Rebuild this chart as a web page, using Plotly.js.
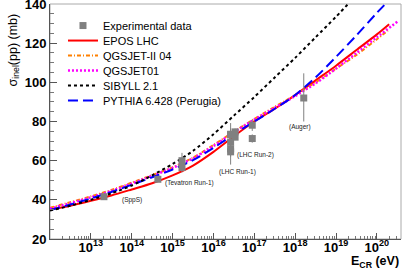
<!DOCTYPE html>
<html>
<head>
<meta charset="utf-8">
<script src="https://cdn.plot.ly/plotly-3.0.1.min.js"></script>
<style>html,body{margin:0;padding:0;background:#fff;}#chart{width:414px;height:272px;}</style>
</head>
<body>
<div id="chart"></div>
<script>
// ---- data (log10 of cosmic-ray energy in eV, cross sections in mb) ----
const eposLogE = [12, 12.5, 13, 13.5, 14, 14.5, 15, 15.5, 16, 16.5, 17, 17.5, 18, 18.5, 19, 19.5, 20, 20.3];
const eposSigma = [35, 37, 39.5, 42.2, 45.3, 48.5, 52.5, 57.5, 64.5, 72.5, 80, 86.5, 93.5, 101, 108.5, 116.5, 124.5, 129.7];

const qgsjet2LogE = [12, 12.5, 13, 13.5, 14, 14.5, 15, 15.5, 16, 16.5, 17, 17.5, 18, 18.5, 19, 19.5, 20, 20.27];
const qgsjet2Sigma = [36, 38.8, 41.8, 45, 48.8, 52.6, 56.6, 61.5, 68, 74.8, 81.3, 87.5, 93.5, 100, 107, 114, 122, 126.5];

const qgsjet01LogE = [12, 12.5, 13, 13.5, 14, 14.5, 15, 15.5, 16, 16.5, 17, 17.5, 18, 18.5, 19, 19.5, 20, 20.52];
const qgsjet01Sigma = [35.5, 38.3, 41.3, 44.5, 48.3, 52.3, 56.3, 61.2, 67.5, 74.5, 81, 87, 93, 99.5, 107, 115, 123, 131.3];

const sibyllLogE = [12, 12.5, 13, 13.5, 14, 14.5, 15, 15.5, 16, 16.5, 17, 17.5, 18, 18.5, 19, 19.5];
const sibyllSigma = [34.5, 37, 40, 43.3, 47.3, 52.5, 58.3, 65, 73.5, 83, 92.5, 102.5, 112.5, 123, 133.5, 144.5];

const pythiaLogE = [12, 12.5, 13, 13.5, 14, 14.5, 15, 15.5, 16, 16.5, 17, 17.5, 18, 18.5, 19, 19.5, 20, 20.3];
const pythiaSigma = [34.8, 37.6, 40.7, 44, 47.7, 51.5, 55.5, 60.3, 66.5, 73.5, 80, 86.5, 93.5, 102.5, 113, 124, 135.5, 142];

const expLogE = [13.32, 14.64, 15.23, 15.23, 16.42, 16.42, 16.42, 16.42, 16.42, 16.53, 16.53, 16.95, 16.95, 18.21];
const expSigma = [41.6, 50.5, 60.0, 56.5, 73.5, 73.2, 69.4, 66.0, 64.5, 74.7, 72.0, 78.1, 71.3, 92.0];
const expErrPlus = [1.0, 1.0, 4.0, 2.5, 3.0, 6.0, 5.0, 4.0, 6.5, 1.7, 1.5, 2.9, 2.1, 12.6];
const expErrMinus = [1.0, 1.0, 4.0, 2.5, 3.0, 6.0, 5.0, 4.0, 6.5, 1.7, 1.5, 2.9, 2.1, 12.0];

const labelText = ['(SppS)', '(Tevatron Run-1)', '(LHC Run-1)', '(LHC Run-2)', '(Auger)'];
const labelLogE = [14.0, 15.42, 16.6, 17.04, 18.11];
const labelSigma = [40, 48.7, 54.4, 63.1, 77.4];

const xTickLogE = [13, 14, 15, 16, 17, 18, 19, 20];
const xTickText = ['10<sup>13</sup>', '10<sup>14</sup>', '10<sup>15</sup>', '10<sup>16</sup>',
                   '10<sup>17</sup>', '10<sup>18</sup>', '10<sup>19</sup>', '10<sup>20</sup>'];

const toE = a => a.map(v => Math.pow(10, v));
const FONT = 'Liberation Sans, Arial, Helvetica, sans-serif';

function model(name, logE, sig, color, dash, width, rank) {
  return {
    type: 'scatter', mode: 'lines', name: name,
    x: toE(logE), y: sig,
    line: {color: color, dash: dash, width: width, shape: 'spline', smoothing: 0.8},
    legendrank: rank, hoverinfo: 'skip'
  };
}

const traces = [
  model('EPOS LHC', eposLogE, eposSigma, '#ff0000', 'solid', 2, 2),
  model('QGSJET-II 04', qgsjet2LogE, qgsjet2Sigma, '#ff8000', '4px,2px,1px,2px', 2, 3),
  model('QGSJET01', qgsjet01LogE, qgsjet01Sigma, '#ff00ff', '2px,2px', 2.5, 4),
  model('PYTHIA 6.428 (Perugia)', pythiaLogE, pythiaSigma, '#0000ff', '10px,5px', 2, 6),
  model('SIBYLL 2.1', sibyllLogE, sibyllSigma, '#000000', '3px,3px', 2, 5),
  {
    type: 'scatter', mode: 'markers', name: 'Experimental data',
    x: toE(expLogE), y: expSigma,
    marker: {symbol: 'square', size: 7, color: '#808080'},
    error_y: {type: 'data', symmetric: false, array: expErrPlus, arrayminus: expErrMinus,
              color: '#808080', thickness: 1, width: 0},
    legendrank: 1, hoverinfo: 'skip'
  }
];

const annotations = labelText.map((t, i) => ({
  text: t, x: labelLogE[i], y: labelSigma[i], xref: 'x', yref: 'y',
  showarrow: false, font: {family: FONT, size: 6.5, color: '#222'}
}));
annotations.push({
  text: '\u03c3<sub>inel</sub>(pp) (mb)', textangle: -90,
  xref: 'paper', yref: 'paper', x: 0, y: 1, xanchor: 'center', yanchor: 'top',
  xshift: -37, yshift: -8, showarrow: false,
  font: {family: FONT, size: 12.5, color: '#000'}
});
annotations.push({
  text: '<b>E<sub>CR</sub> (eV)</b>',
  xref: 'paper', yref: 'paper', x: 1, y: 0, xanchor: 'right', yanchor: 'bottom',
  yshift: -33, showarrow: false,
  font: {family: FONT, size: 12.5, color: '#000'}
});

const layout = {
  width: 414, height: 272,
  margin: {l: 50, r: 13, t: 4, b: 33},
  paper_bgcolor: '#fff', plot_bgcolor: '#fff',
  font: {family: FONT, color: '#000'},
  showlegend: true,
  legend: {
    x: 0.037, y: 0.97, xanchor: 'left', yanchor: 'top',
    bgcolor: 'rgba(0,0,0,0)', borderwidth: 0,
    font: {family: FONT, size: 11, color: '#000'}
  },
  xaxis: {
    type: 'log', range: [12.0, 20.59], tickmode: 'array',
    tickvals: toE(xTickLogE), ticktext: xTickText, tickangle: 0,
    showgrid: false, zeroline: false, showline: true, linecolor: '#555', linewidth: 1,
    ticks: 'inside', ticklen: 6, tickcolor: '#555', ticklabelstandoff: -4,
    minor: {ticks: 'inside', ticklen: 3, dtick: 'D1', tickcolor: '#777', showgrid: false},
    tickfont: {family: FONT, size: 13, color: '#000', weight: 'bold'}
  },
  yaxis: {
    range: [20, 140], dtick: 20, showgrid: false, zeroline: false,
    showline: true, linecolor: '#555', linewidth: 1,
    ticks: 'inside', ticklen: 7, tickcolor: '#555', ticklabeloverflow: 'allow',
    minor: {ticks: 'inside', ticklen: 4, dtick: 5, tickcolor: '#777', showgrid: false},
    tickfont: {family: FONT, size: 13, color: '#000', weight: 'bold'}
  },
  shapes: [{
    type: 'rect', xref: 'paper', yref: 'paper', x0: 0, x1: 1, y0: 0, y1: 1,
    line: {color: '#aaa', width: 1}, layer: 'below'
  }],
  annotations: annotations
};

Plotly.newPlot('chart', traces, layout, {displayModeBar: false, staticPlot: true}).then(() => {
  // tighten the legend row spacing to match the reference (15 px per row)
  const items = document.querySelectorAll('#chart .legend .traces');
  let y0 = null;
  items.forEach((g, i) => {
    const m = /translate\(\s*([-\d.]+)[ ,]+([-\d.]+)\s*\)/.exec(g.getAttribute('transform') || '');
    if (!m) return;
    if (y0 === null) { y0 = parseFloat(m[2]); }
    g.setAttribute('transform', 'translate(' + m[1] + ',' + (y0 + i * 15) + ')');
  });
});
</script>
</body>
</html>
